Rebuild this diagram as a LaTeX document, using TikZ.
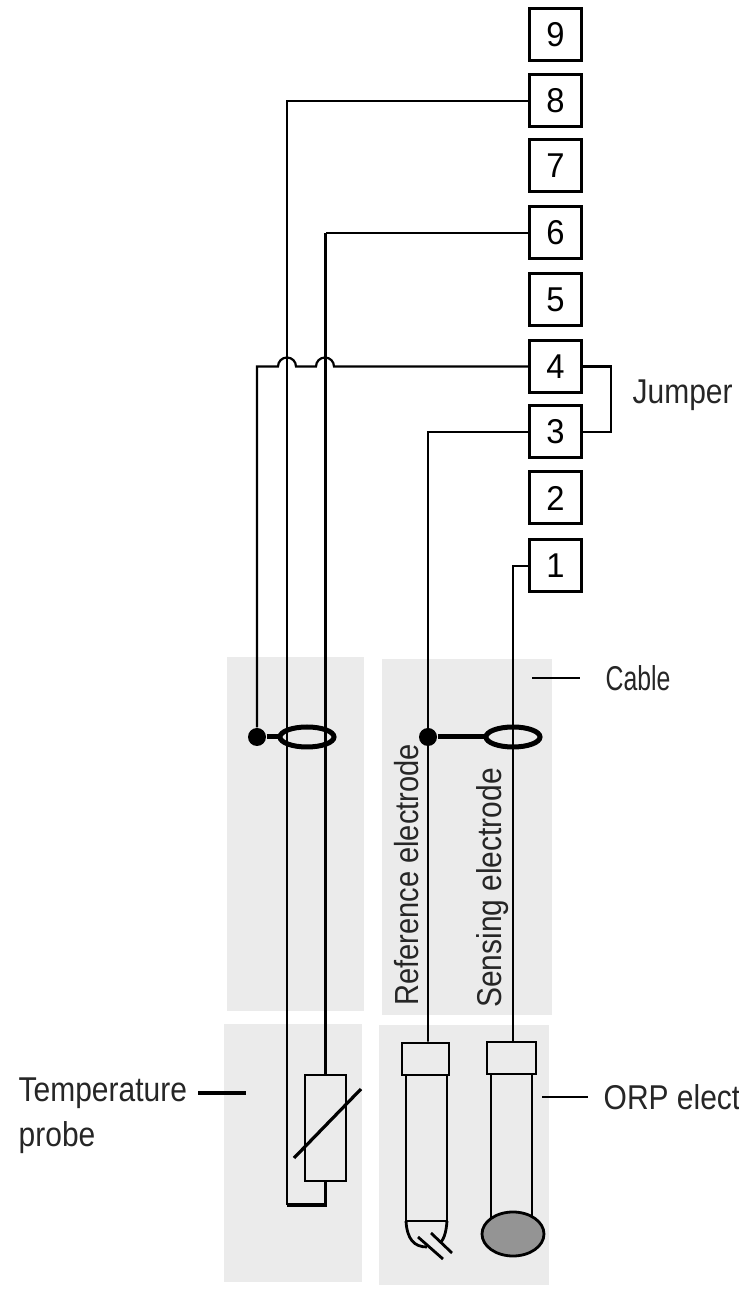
\documentclass[tikz,border=0pt]{standalone}
\usepackage{fontspec}
\setmainfont[FakeStretch=0.87]{Liberation Sans}
\newfontfamily\digitfont[FakeStretch=0.95]{Liberation Sans}
\newfontfamily\narrowfont[FakeStretch=0.72]{Liberation Sans}
\usetikzlibrary{shapes.geometric}
\tikzset{
	panel/.style={fill=black!8, draw=none},
	termbox/.style={draw, line width=0.3mm, minimum width=0.52cm, minimum height=0.52cm, inner sep=0, font=\digitfont\fontsize{9.8}{11}\selectfont, fill=white},
	wirethin/.style={line width=0.22mm},
	wirethick/.style={line width=0.32mm},
	tubeline/.style={line width=0.28mm},
	label/.style={inner sep=0, font=\fontsize{9.8}{12.8}\selectfont, text=black!85},
	dotnode/.style={circle, fill=black, inner sep=0, minimum size=0.18cm},
	coilnode/.style={ellipse, draw, line width=0.5mm, inner sep=0, minimum width=0.54cm, minimum height=0.2cm}
}
\begin{document}
\begin{tikzpicture}
	\useasboundingbox (0, 0) rectangle (7.39, 12.9);

	\fill[panel] (2.27, 6.33) rectangle (3.64, 2.79);
	\fill[panel] (3.82, 6.31) rectangle (5.52, 2.75);
	\fill[panel] (2.24, 2.66) rectangle (3.62, 0.08);
	\fill[panel] (3.79, 2.65) rectangle (5.49, 0.05);

	\node[termbox] (box9) at (5.555, 12.55) {9};
	\node[termbox] (box8) at (5.555, 11.89) {8};
	\node[termbox] (box7) at (5.555, 11.24) {7};
	\node[termbox] (box6) at (5.555, 10.57) {6};
	\node[termbox] (box5) at (5.555, 9.90) {5};
	\node[termbox] (box4) at (5.555, 9.235) {4};
	\node[termbox] (box3) at (5.555, 8.58) {3};
	\node[termbox] (box2) at (5.555, 7.92) {2};
	\node[termbox] (box1) at (5.555, 7.24) {1};

	\node[draw, wirethin, minimum width=0.41cm, minimum height=1.06cm, inner sep=0] (probe) at (3.255, 1.62) {};
	\node[draw, tubeline, minimum width=0.47cm, minimum height=0.32cm, inner sep=0] (capref) at (4.255, 2.31) {};
	\node[draw, tubeline, minimum width=0.49cm, minimum height=0.32cm, inner sep=0] (capsense) at (5.115, 2.32) {};

	\node[dotnode] (dottemp) at (2.57, 5.53) {};
	\node[dotnode] (dotref) at (4.28, 5.53) {};
	\node[coilnode] (coiltemp) at (3.07, 5.53) {};
	\node[coilnode] (coilsense) at (5.13, 5.53) {};
	\coordinate (loopend) at (2.87, 0.85);
	\coordinate (bendsix) at (3.255, 10.57);

	% wires
	\draw[wirethin] (box8.west) -| (loopend);
	\draw[wirethick] (loopend) -| (probe.south);
	\draw[wirethin] (box6.west) -- (bendsix);
	\draw[wirethick] (bendsix) -- (probe.north);
	\draw[wirethin] (box4.west) -- (3.34, 9.235) arc (0:180:0.09) -- (2.96, 9.235) arc (0:180:0.09) -| (dottemp);
	\draw[wirethin] (box3.west) -| (capref.north -| dotref) -- (dotref);
	\draw[wirethin] (box1.west) -| (capsense.north -| coilsense);
	\draw[wirethin] (box4.east) -- ++(0.28, 0) |- (box3.east);

	\draw[line width=0.5mm] (dottemp) -- (coiltemp);
	\draw[line width=0.5mm] (dotref) -- (coilsense);

	% thermistor slash
	\draw[wirethick] (2.94, 1.32) -- (3.61, 2.01);

	% reference electrode
	\draw[tubeline] (4.06, 2.15) -- (4.06, 0.69) -- (4.47, 0.69) -- (4.47, 2.15);
	\draw[tubeline] (4.06, 0.69) .. controls (4.07, 0.51) and (4.14, 0.43) .. (4.27, 0.43);
	\draw[tubeline] (4.47, 0.69) .. controls (4.46, 0.55) and (4.43, 0.50) .. (4.40, 0.47);
	\draw[tubeline] (4.18, 0.53) -- (4.43, 0.31);
	\draw[tubeline] (4.31, 0.57) -- (4.52, 0.37);

	% sensing electrode
	\draw[tubeline] (4.91, 2.16) -- (4.91, 0.72);
	\draw[tubeline] (5.32, 2.16) -- (5.32, 0.72);
	\draw[tubeline, fill=black!42] (5.13, 0.56) ellipse (0.31 and 0.22);

	% labels
	\node[label, anchor=west] (jumper) at (6.32, 8.95) {Jumper};
	\node[label, anchor=west, font=\narrowfont\fontsize{9.8}{12.8}\selectfont] (cable) at (6.05, 6.12) {Cable};
	\node[label, anchor=west, align=left] (temp) at (0.18, 1.74) {Temperature\\probe};
	\node[label, anchor=west] (orp) at (6.03, 1.93) {ORP elect};
	\node[label, rotate=90, font=\fontsize{9.5}{11}\selectfont] (refelec) at (4.07, 4.15) {Reference electrode};
	\node[label, rotate=90] (senselec) at (4.93, 4.02) {Sensing electrode};

	\draw[wirethin] (5.32, 6.12) -- (5.80, 6.12);
	\draw[wirethick] (1.98, 1.97) -- (2.46, 1.97);
	\draw[wirethin] (5.42, 1.93) -- (5.88, 1.93);
\end{tikzpicture}
\end{document}
